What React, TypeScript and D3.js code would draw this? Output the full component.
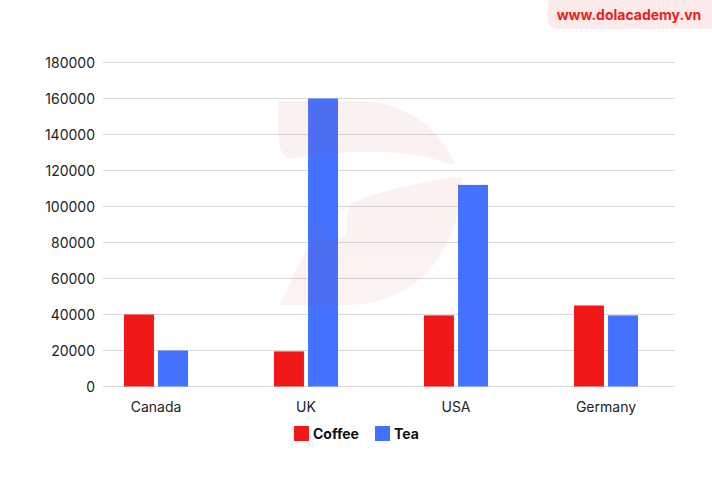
import { useEffect, useRef } from "react";
import * as d3 from "d3";

const countries = ["Canada", "UK", "USA", "Germany"];
const coffee = [40000, 19500, 39500, 45000];
const tea = [20000, 160000, 112000, 39500];
const yTicks = [0, 20000, 40000, 60000, 80000, 100000, 120000, 140000, 160000, 180000];
const seriesNames = ["Coffee", "Tea"];
const seriesColors = ["#F21818", "#4272FF"];

const App = () => {
  const ref = useRef<SVGSVGElement>(null);

  useEffect(() => {
    const svg = d3.select(ref.current);
    svg.selectAll("*").remove();

    const FONT = "Inter, 'Noto Sans', sans-serif";
    const GRID = { LEFT: 103, RIGHT: 675, TOP: 62.5, BOTTOM: 386.5 };

    const x = d3.scaleBand<string>().domain(countries).range([81, 681]);
    const y = d3.scaleLinear().domain([0, 180000]).range([GRID.BOTTOM, GRID.TOP]);
    const inner = d3.scaleBand<number>().domain([0, 1]).range([-32, 32]).paddingInner(0.12);

    // gridlines + y labels
    const grid = svg.append("g");
    grid.selectAll("line")
      .data(yTicks)
      .join("line")
      .attr("x1", GRID.LEFT)
      .attr("x2", GRID.RIGHT)
      .attr("y1", d => y(d))
      .attr("y2", d => y(d))
      .attr("stroke", "#d9d9d9")
      .attr("stroke-width", 1);
    grid.selectAll("text")
      .data(yTicks)
      .join("text")
      .attr("x", 95)
      .attr("y", d => y(d))
      .attr("dy", "0.36em")
      .attr("text-anchor", "end")
      .attr("font-family", FONT)
      .attr("font-size", 14)
      .attr("fill", "#222")
      .text(d => String(d));

    // bars
    const data = countries.map((c, i) => ({ c, vals: [coffee[i], tea[i]] }));
    const groups = svg.append("g")
      .selectAll("g")
      .data(data)
      .join("g")
      .attr("transform", d => `translate(${x(d.c)! + x.bandwidth() / 2},0)`);
    groups.selectAll("rect")
      .data(d => d.vals.map((v, k) => ({ v, k })))
      .join("rect")
      .attr("x", d => inner(d.k)!)
      .attr("width", inner.bandwidth())
      .attr("y", d => y(d.v))
      .attr("height", d => GRID.BOTTOM - y(d.v))
      .attr("fill", d => seriesColors[d.k]);

    // x labels
    svg.append("g")
      .selectAll("text")
      .data(countries)
      .join("text")
      .attr("x", d => x(d)! + x.bandwidth() / 2)
      .attr("y", 407)
      .attr("dy", "0.36em")
      .attr("text-anchor", "middle")
      .attr("font-family", FONT)
      .attr("font-size", 14)
      .attr("fill", "#222")
      .text(d => d);

    // legend
    const legendX = [294, 375];
    const legend = svg.append("g")
      .selectAll("g")
      .data(seriesNames)
      .join("g")
      .attr("transform", (_, i) => `translate(${legendX[i]},426)`);
    legend.append("rect")
      .attr("width", 15)
      .attr("height", 15)
      .attr("fill", (_, i) => seriesColors[i]);
    legend.append("text")
      .attr("x", 19)
      .attr("y", 7.5)
      .attr("dy", "0.36em")
      .attr("font-family", FONT)
      .attr("font-size", 14)
      .attr("font-weight", 700)
      .attr("fill", "#111")
      .text(d => d);

    // faint logo watermark, drawn over the bars
    const wm = svg.append("g").attr("fill", "#D84848").attr("opacity", 0.07);
    wm.append("path")
      .attr("d", "M278,101 L360,101 C400,101 440,125 455,165 L445,163 C410,148 340,150 295,158 C285,160 279,152 279,140 Z");
    wm.append("path")
      .attr("d", "M462,177 C430,180 370,192 350,205 C345,215 348,230 345,237 C330,240 322,240 320,240 C325,225 335,212 350,205 C320,215 300,260 280,305 L345,305 C410,305 460,260 462,177 Z");

    // site tag
    svg.append("rect")
      .attr("x", 548)
      .attr("y", -10)
      .attr("width", 180)
      .attr("height", 39)
      .attr("rx", 9)
      .attr("fill", "#FDEBEB");
    svg.append("text")
      .attr("x", 629)
      .attr("y", 15)
      .attr("dy", "0.36em")
      .attr("text-anchor", "middle")
      .attr("font-family", FONT)
      .attr("font-size", 14)
      .attr("font-weight", 700)
      .attr("fill", "#F01C1C")
      .text("www.dolacademy.vn");
  }, []);

  return (
    <svg
      ref={ref}
      width={712}
      height={478}
      style={{ position: "absolute", left: 0, top: 0, background: "#fff" }}
    />
  );
};

export default App;
